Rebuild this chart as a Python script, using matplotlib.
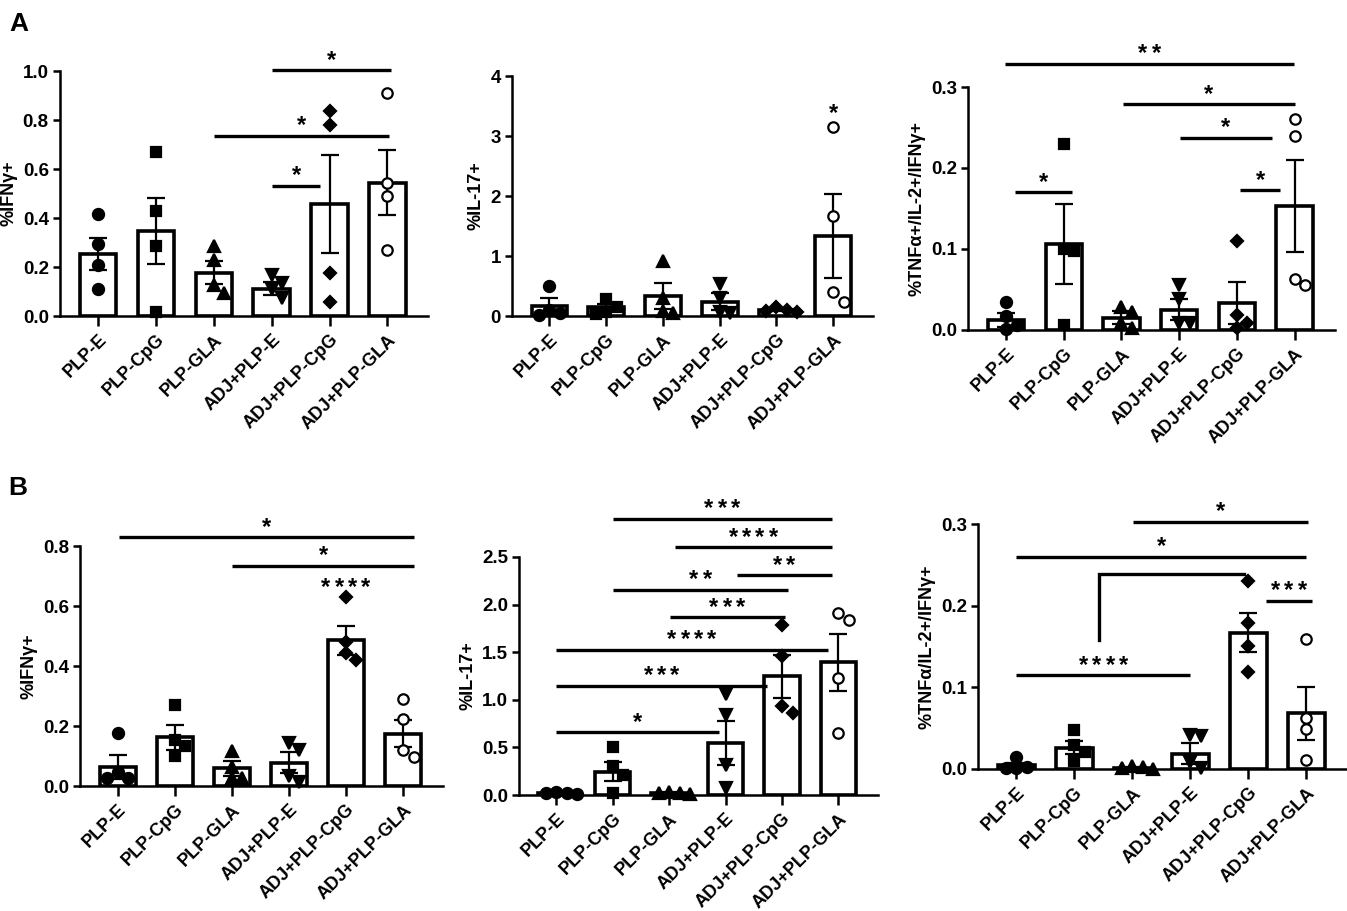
import numpy as np
import matplotlib.pyplot as plt
from matplotlib import font_manager as fm


def has_bold(name):
    for f in fm.fontManager.ttflist:
        if f.name == name and (f.weight in (700, 'bold') or str(f.weight) == '700'):
            return True
    return False


family = next((n for n in ['Liberation Sans', 'Arimo', 'Roboto', 'Noto Sans']
               if has_bold(n)), 'DejaVu Sans')
plt.rcParams['font.family'] = [family, 'DejaVu Sans']
plt.rcParams['font.weight'] = 'bold'

# --- groups ---
groups = ['PLP-E', 'PLP-CpG', 'PLP-GLA', 'ADJ+PLP-E', 'ADJ+PLP-CpG', 'ADJ+PLP-GLA']

# --- panel A: IFNg ---
a1_mean = [0.253, 0.346, 0.177, 0.111, 0.457, 0.545]
a1_sem = [0.067, 0.135, 0.046, 0.026, 0.200, 0.134]
a1_pts = [[0.418, 0.296, 0.21, 0.109], [0.668, 0.429, 0.287, 0.018],
          [0.285, 0.228, 0.126, 0.092], [0.166, 0.136, 0.109, 0.075],
          [0.837, 0.778, 0.177, 0.056], [0.910, 0.541, 0.490, 0.269]]
a1_sig = [(3.01, 5.07, 1.004, '*'), (2.01, 5.03, 0.735, '*'), (3.01, 3.84, 0.531, '*')]

# --- panel A: IL-17 ---
a2_mean = [0.166, 0.15, 0.338, 0.24, 0.10, 1.337]
a2_sem = [0.128, 0.044, 0.217, 0.137, 0.02, 0.70]
a2_pts = [[0.50, 0.10, 0.05, 0.02], [0.29, 0.155, 0.07, 0.03],
          [0.92, 0.30, 0.08, 0.05], [0.54, 0.30, 0.07, 0.05],
          [0.15, 0.10, 0.08, 0.06], [3.15, 1.67, 0.40, 0.24]]
a2_sig = []
a2_lone = [(5, 3.21, '*')]

# --- panel A: TNFa/IL-2/IFNg ---
a3_mean = [0.0123, 0.106, 0.015, 0.0247, 0.0337, 0.153]
a3_sem = [0.009, 0.049, 0.008, 0.013, 0.026, 0.057]
a3_pts = [[0.035, 0.017, 0.006, 0.001], [0.23, 0.10, 0.097, 0.006],
          [0.028, 0.022, 0.008, 0.002], [0.055, 0.038, 0.008, 0.008],
          [0.11, 0.018, 0.009, 0.003], [0.261, 0.24, 0.0625, 0.0555]]
a3_sig = [(-0.02, 4.99, 0.329, '**'), (2.02, 5.0, 0.279, '*'), (3.01, 4.6, 0.2375, '*'),
          (4.06, 4.75, 0.1726, '*'), (0.16, 1.14, 0.170, '*')]

# --- panel B: IFNg ---
b1_mean = [0.064, 0.162, 0.059, 0.078, 0.486, 0.175]
b1_sem = [0.041, 0.041, 0.025, 0.036, 0.048, 0.046]
b1_pts = [[0.178, 0.048, 0.026, 0.026], [0.27, 0.155, 0.135, 0.10],
          [0.117, 0.064, 0.026, 0.026], [0.145, 0.12, 0.035, 0.015],
          [0.63, 0.48, 0.442, 0.42], [0.289, 0.222, 0.12, 0.098]]
b1_sig = [(0.02, 5.2, 0.830, '*'), (2.01, 5.2, 0.734, '*')]
b1_lone = [(4, 0.627, '****')]

# --- panel B: IL-17 ---
b2_mean = [0.02, 0.245, 0.025, 0.55, 1.245, 1.392]
b2_sem = [0.004, 0.10, 0.005, 0.23, 0.225, 0.295]
b2_pts = [[0.03, 0.02, 0.02, 0.01], [0.50, 0.30, 0.21, 0.02],
          [0.03, 0.02, 0.02, 0.01], [1.06, 0.84, 0.32, 0.07],
          [1.79, 1.455, 0.936, 0.86], [1.91, 1.84, 1.227, 0.656]]
b2_sig = [(1.0, 4.88, 2.90, '***'), (2.1, 4.88, 2.60, '****'), (3.2, 4.88, 2.307, '**'),
          (1.0, 4.11, 2.156, '**'), (2.01, 4.05, 1.869, '***'), (0.0, 4.81, 1.525, '****'),
          (0.0, 3.73, 1.15, '***'), (0.0, 2.89, 0.659, '*')]

# --- panel B: TNFa/IL-2/IFNg ---
b3_mean = [0.0045, 0.0258, 0.0016, 0.0188, 0.167, 0.068]
b3_sem = [0.003, 0.008, 0.001, 0.013, 0.024, 0.032]
b3_pts = [[0.015, 0.003, 0.001, 0.001], [0.0475, 0.029, 0.021, 0.0094],
          [0.004, 0.002, 0.001, 0.0005], [0.041, 0.04, 0.008, 0.001],
          [0.2296, 0.179, 0.151, 0.119], [0.159, 0.063, 0.0495, 0.011]]
b3_sig = [(2.01, 5.03, 0.3025, '*'), (0.0, 4.99, 0.260, '*'), (0.0, 3.0, 0.115, '****'),
          (4.3, 5.1, 0.206, '***')]
b3_elbow = (1.42, 3.92, 0.158, 0.239)

markers = ['o', 's', '^', 'v', 'D', 'o']
msizes = [8, 7.5, 8.5, 8.5, 6, 7.5]

fig = plt.figure(figsize=(13.47, 9.11), dpi=100)


def swarm_x(ax, x0, vals, d=10.5):
    # spread overlapping points sideways, in pixels
    pts = ax.transData.transform([(x0, v) for v in vals])
    placed = []
    for px, py in pts:
        for k in [0, 1, -1, 2, -2, 3, -3]:
            cx = px + k * d
            if all((cx - qx) ** 2 + (py - qy) ** 2 >= (d * 0.95) ** 2 for qx, qy in placed):
                break
        placed.append((cx, py))
    inv = ax.transData.inverted()
    return [inv.transform((cx, cy))[0] for cx, cy in placed]


def stars(ax, xc, y, lab):
    # each asterisk drawn on its own, GraphPad spacing
    n = len(lab)
    for k in range(n):
        ax.annotate('*', xy=(xc, y), xytext=((k - (n - 1) / 2) * 9.6, 2.5),
                    textcoords='offset points', ha='center', va='baseline',
                    fontsize=17, fontweight='bold', annotation_clip=False)


def panel(rect, mean, sem, pts, sig, ymax, ystep, ylabel, fmt, lone=(), elbow=None):
    ax = fig.add_axes(rect)
    x = np.arange(len(groups))
    ax.set_xlim(-0.66, 5.7)
    ax.set_ylim(0, ymax)
    ax.bar(x, mean, width=0.63, color='white', edgecolor='black', linewidth=2.6, zorder=2)
    ax.errorbar(x, mean, yerr=sem, fmt='none', ecolor='black', elinewidth=1.6,
                capsize=6.8, capthick=1.6, zorder=3, clip_on=False)
    for i, vals in enumerate(pts):
        xs = swarm_x(ax, x[i], vals)
        face = 'white' if i == 5 else 'black'
        ax.plot(xs, vals, linestyle='none', marker=markers[i], markersize=msizes[i],
                markerfacecolor=face, markeredgecolor='black', markeredgewidth=1.6,
                zorder=4, clip_on=False)
    for x1, x2, y, lab in sig:
        ax.plot([x1, x2], [y, y], color='black', linewidth=2.4, clip_on=False,
                solid_capstyle='butt')
        stars(ax, (x1 + x2) / 2, y, lab)
    for xc, y, lab in lone:
        stars(ax, xc, y, lab)
    if elbow is not None:
        ex1, ex2, ey1, ey2 = elbow
        ax.plot([ex1, ex1, ex2], [ey1, ey2, ey2], color='black', linewidth=2.4,
                clip_on=False, solid_joinstyle='miter')
    for s in ['top', 'right']:
        ax.spines[s].set_visible(False)
    for s in ['left', 'bottom']:
        ax.spines[s].set_linewidth(1.8)
    yt = np.arange(0, ymax + ystep / 2, ystep)
    ax.set_yticks(yt)
    ax.set_yticklabels([fmt.format(v) for v in yt], fontsize=13.5, fontweight='bold')
    ax.set_xticks(x)
    ax.set_xticklabels(groups, rotation=45, ha='right', rotation_mode='anchor',
                       fontsize=13, fontweight='bold')
    ax.tick_params(axis='x', direction='out', length=7, width=1.8, pad=4)
    ax.tick_params(axis='y', direction='out', length=5, width=1.8, pad=3)
    ax.set_ylabel(ylabel, fontsize=13, fontweight='bold', labelpad=4)
    return ax


panel([0.0445, 0.6531, 0.2732, 0.2689], a1_mean, a1_sem, a1_pts, a1_sig, 1.0, 0.2,
      '%IFNγ+', '{:.1f}')
panel([0.3801, 0.6531, 0.2680, 0.2634], a2_mean, a2_sem, a2_pts, a2_sig, 4, 1,
      '%IL-17+', '{:.0f}', lone=a2_lone)
panel([0.7186, 0.6378, 0.2725, 0.2667], a3_mean, a3_sem, a3_pts, a3_sig, 0.3, 0.1,
      '%TNFα+/IL-2+/IFNγ+', '{:.1f}')
panel([0.0594, 0.1372, 0.2695, 0.2634], b1_mean, b1_sem, b1_pts, b1_sig, 0.8, 0.2,
      '%IFNγ+', '{:.1f}', lone=b1_lone)
panel([0.3853, 0.1273, 0.2665, 0.2613], b2_mean, b2_sem, b2_pts, b2_sig, 2.5, 0.5,
      '%IL-17+', '{:.1f}')
panel([0.7261, 0.1559, 0.2739, 0.2689], b3_mean, b3_sem, b3_pts, b3_sig, 0.3, 0.1,
      '%TNFα/IL-2+/IFNγ+', '{:.1f}', elbow=b3_elbow)

fig.text(0.007, 0.987, 'A', fontsize=19, fontweight='bold', va='top', ha='left')
fig.text(0.006, 0.477, 'B', fontsize=19, fontweight='bold', va='top', ha='left')

fig.savefig('out.png', dpi=100)
